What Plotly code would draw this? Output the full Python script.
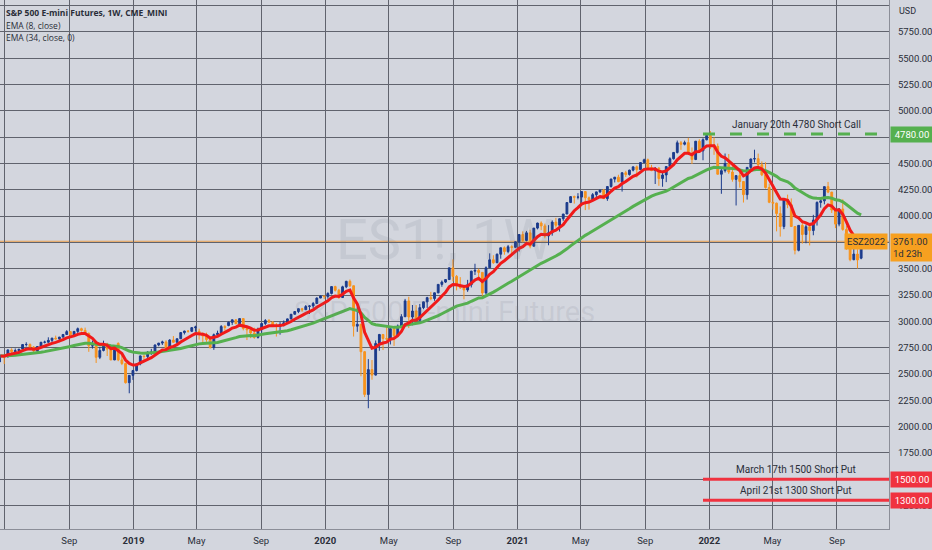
import pandas as pd
import plotly.graph_objects as go

# ---- weekly OHLC, ES1! continuous, weeks starting Monday
first_week = "2018-04-23"

opens = [
    # 2018
    2670, 2669, 2664, 2728, 2713, 2721, 2736, 2779, 2780, 2755, 2718, 2760, 2801, 2802, 2819, 2840, 2833, 2850, 2875,
    2902, 2872, 2904, 2930, 2914, 2885, 2767, 2768, 2658, 2723, 2781, 2736, 2633, 2790, 2633, 2599, 2417, 2486,
    # 2019
    2532, 2596, 2671, 2665, 2707, 2707, 2775, 2793, 2804, 2743, 2822, 2801, 2834, 2893, 2907, 2905, 2940, 2905, 2881,
    2860, 2826, 2752, 2873, 2887, 2950, 2960, 2990, 3014, 2977, 3026, 2932, 2919, 2889, 2847, 2926, 2979, 3007, 2992,
    2961, 2952, 2970, 2986, 3023, 3067, 3093, 3120, 3110, 3141, 3146, 3169, 3221, 3240,
    # 2020
    3235, 3265, 3330, 3295, 3226, 3328, 3380, 3338, 2954, 2972, 2711, 2305, 2541, 2489, 2790, 2875, 2837, 2831, 2930,
    2864, 2955, 3044, 3194, 3041, 3098, 3009, 3130, 3185, 3225, 3216, 3271, 3351, 3373, 3397, 3508, 3427, 3341, 3319,
    3298, 3348, 3477, 3484, 3465, 3270, 3509, 3585, 3557, 3638, 3699, 3663, 3709, 3703,
    # 2021
    3756, 3825, 3768, 3841, 3714, 3886, 3934, 3907, 3811, 3842, 3943, 3913, 3975, 4020, 4129, 4185, 4180, 4181, 4233,
    4174, 4156, 4204, 4230, 4247, 4166, 4281, 4352, 4370, 4327, 4412, 4395, 4437, 4468, 4442, 4509, 4535, 4459, 4433,
    4455, 4357, 4391, 4471, 4545, 4605, 4697, 4683, 4698, 4595, 4538, 4712, 4620, 4726,
    # 2022
    4766, 4677, 4663, 4398, 4432, 4500, 4419, 4349, 4385, 4329, 4204, 4463, 4543, 4546, 4488, 4392, 4272, 4132, 4123,
    4024, 3901, 4158, 4109, 3901, 3675, 3912, 3825, 3899, 3863, 3962, 4130, 4145, 4280, 4228, 4058, 3924, 4067, 3873,
    3693, 3586, 3639, 3600,
]
highs = [
    2683, 2683, 2732, 2743, 2742, 2736, 2780, 2801, 2790, 2765, 2764, 2804, 2816, 2848, 2843, 2864, 2852, 2877, 2916,
    2906, 2908, 2941, 2939, 2940, 2894, 2817, 2778, 2756, 2816, 2796, 2746, 2765, 2800, 2685, 2607, 2489, 2538,
    2598, 2675, 2674, 2716, 2738, 2780, 2794, 2816, 2820, 2830, 2860, 2837, 2895, 2911, 2917, 2944, 2958, 2930, 2894,
    2892, 2839, 2884, 2911, 2964, 2964, 2998, 3017, 3018, 3028, 3029, 2945, 2943, 2940, 2940, 2986, 3021, 3022, 3002,
    2983, 2993, 3008, 3027, 3068, 3098, 3122, 3128, 3155, 3155, 3184, 3227, 3248, 3247,
    3276, 3330, 3338, 3308, 3338, 3385, 3397, 3339, 3137, 2973, 2718, 2641, 2632, 2818, 2880, 2877, 2955, 2935, 2950,
    2970, 3068, 3213, 3233, 3155, 3154, 3165, 3186, 3233, 3280, 3272, 3352, 3388, 3400, 3509, 3588, 3440, 3420, 3320,
    3394, 3480, 3547, 3500, 3466, 3522, 3646, 3628, 3644, 3699, 3712, 3726, 3723, 3760,
    3826, 3855, 3859, 3870, 3887, 3937, 3950, 3928, 3914, 3960, 3983, 3978, 4020, 4129, 4191, 4195, 4218, 4238, 4237,
    4186, 4219, 4233, 4249, 4257, 4286, 4356, 4372, 4393, 4415, 4430, 4441, 4470, 4481, 4510, 4546, 4547, 4487, 4466,
    4466, 4429, 4475, 4559, 4608, 4718, 4714, 4717, 4744, 4652, 4713, 4731, 4740, 4790,
    4808, 4748, 4690, 4453, 4595, 4590, 4490, 4385, 4415, 4330, 4465, 4546, 4631, 4594, 4520, 4512, 4308, 4303, 4128,
    4092, 4160, 4204, 4168, 3905, 3913, 3950, 3919, 3900, 4012, 4140, 4167, 4283, 4325, 4230, 4062, 4077, 4160, 3910,
    3740, 3813, 3685, 3802,
]
lows = [
    2612, 2594, 2655, 2701, 2702, 2676, 2735, 2761, 2744, 2699, 2698, 2757, 2790, 2796, 2798, 2828, 2802, 2846, 2873,
    2864, 2866, 2887, 2903, 2874, 2710, 2741, 2604, 2641, 2714, 2670, 2631, 2631, 2621, 2584, 2408, 2316, 2443,
    2524, 2582, 2612, 2631, 2681, 2703, 2763, 2775, 2729, 2740, 2798, 2785, 2833, 2875, 2892, 2898, 2901, 2826, 2801,
    2805, 2740, 2729, 2866, 2880, 2912, 2953, 2966, 2975, 2975, 2914, 2822, 2840, 2834, 2836, 2892, 2964, 2985, 2946,
    2855, 2873, 2952, 2978, 3017, 3066, 3078, 3092, 3108, 3070, 3124, 3168, 3220, 3212,
    3214, 3255, 3283, 3214, 3223, 3315, 3326, 2855, 2900, 2478, 2280, 2174, 2445, 2485, 2720, 2727, 2817, 2780, 2766,
    2850, 2950, 3040, 2936, 2962, 2998, 3000, 3115, 3127, 3200, 3195, 3266, 3328, 3364, 3396, 3380, 3294, 3308, 3209,
    3280, 3322, 3440, 3415, 3233, 3255, 3508, 3546, 3552, 3595, 3633, 3647, 3636, 3695,
    3663, 3749, 3760, 3694, 3712, 3874, 3866, 3789, 3723, 3814, 3890, 3853, 3955, 4020, 4124, 4119, 4159, 4126, 4057,
    4062, 4152, 4168, 4220, 4165, 4145, 4271, 4320, 4322, 4233, 4372, 4385, 4425, 4367, 4439, 4508, 4457, 4427, 4305,
    4288, 4279, 4323, 4458, 4537, 4595, 4630, 4672, 4584, 4495, 4532, 4600, 4531, 4720,
    4637, 4582, 4395, 4212, 4414, 4401, 4327, 4101, 4270, 4129, 4157, 4424, 4510, 4450, 4380, 4261, 4123, 4062, 3855,
    3805, 3876, 4075, 3898, 3636, 3665, 3738, 3742, 3721, 3818, 3910, 4080, 4112, 4218, 4030, 3886, 3903, 3861, 3680,
    3571, 3580, 3502, 3590,
]
closes = [
    2670, 2663, 2728, 2713, 2721, 2735, 2779, 2780, 2755, 2718, 2760, 2801, 2802, 2819, 2840, 2833, 2850, 2875, 2902,
    2872, 2904, 2930, 2914, 2885, 2767, 2768, 2658, 2723, 2781, 2736, 2633, 2760, 2633, 2599, 2417, 2486, 2532,
    2596, 2671, 2665, 2707, 2707, 2775, 2793, 2804, 2743, 2822, 2801, 2834, 2893, 2907, 2905, 2940, 2946, 2881, 2860,
    2826, 2752, 2873, 2887, 2950, 2942, 2990, 3014, 2977, 3026, 2932, 2919, 2889, 2847, 2926, 2979, 3007, 2992, 2961,
    2952, 2970, 2986, 3023, 3067, 3093, 3120, 3110, 3141, 3146, 3169, 3221, 3240, 3235,
    3265, 3330, 3295, 3226, 3328, 3380, 3338, 2954, 2972, 2711, 2305, 2541, 2489, 2790, 2875, 2837, 2831, 2930, 2864,
    2955, 3044, 3194, 3041, 3098, 3009, 3130, 3185, 3225, 3216, 3271, 3351, 3373, 3397, 3508, 3427, 3341, 3319, 3298,
    3348, 3477, 3484, 3465, 3270, 3509, 3585, 3557, 3638, 3699, 3663, 3709, 3703, 3756,
    3825, 3768, 3841, 3714, 3886, 3934, 3907, 3811, 3842, 3943, 3913, 3975, 4020, 4129, 4185, 4180, 4181, 4233, 4174,
    4156, 4204, 4230, 4247, 4166, 4281, 4352, 4370, 4327, 4412, 4395, 4437, 4468, 4442, 4509, 4535, 4459, 4433, 4455,
    4357, 4391, 4471, 4545, 4605, 4697, 4683, 4698, 4595, 4538, 4712, 4620, 4726, 4766,
    4677, 4663, 4398, 4432, 4500, 4419, 4349, 4385, 4329, 4204, 4463, 4543, 4546, 4488, 4392, 4272, 4132, 4123, 4024,
    3901, 4158, 4109, 3901, 3675, 3912, 3825, 3899, 3863, 3962, 4130, 4145, 4280, 4228, 4058, 3924, 4067, 3873, 3693,
    3586, 3639, 3583, 3761,
]

# ---- option strikes drawn on the chart
strike_levels = [4780, 1500, 1300]
strike_labels = ["January 20th 4780 Short Call", "March 17th 1500 Short Put", "April 21st 1300 Short Put"]
strike_start = "2021-12-20"

last_price = 3761
contract = "ESZ2022"
bar_countdown = "1d 23h"

tick_dates = ["2018-05-01", "2018-09-01", "2019-01-01", "2019-05-01", "2019-09-01", "2020-01-01", "2020-05-01",
              "2020-09-01", "2021-01-01", "2021-05-01", "2021-09-01", "2022-01-01", "2022-05-01", "2022-09-01"]
tick_labels = ["May", "Sep", "<b>2019</b>", "May", "Sep", "<b>2020</b>", "May", "Sep", "<b>2021</b>",
               "May", "Sep", "<b>2022</b>", "May", "Sep"]
price_ticks = [1250, 1500, 1750, 2000, 2250, 2500, 2750, 3000, 3250, 3500, 3750, 4000, 4250, 4500,
               4750, 5000, 5250, 5500, 5750, 6000]
hidden_ticks = [1500, 3750, 4750, 6000]   # covered by the price badges / USD caption
price_labels = ["" if p in hidden_ticks else f"{p:.2f}" for p in price_ticks]

x_range = ["2018-04-22", "2022-12-09"]
y_range = [1026, 6054]

# ---------------------------------------------------------------
dates = pd.date_range(first_week, periods=len(closes), freq="W-MON")
ema8 = pd.Series(closes).ewm(span=8, adjust=False).mean()
ema34 = pd.Series(closes).ewm(span=34, adjust=False).mean()

BG = "#d3d6de"
GRID = "#60636d"
AXIS = "#8b8e98"
UP = "#1b3b8c"
DOWN = "#f7931e"
GREEN = "#55b04f"
RED = "#f0323f"
ORANGE = "#f7a020"
TXT = "#2a2e39"
strike_colors = [GREEN, RED, RED]

fig = go.Figure()
fig.add_trace(go.Candlestick(
    x=dates, open=opens, high=highs, low=lows, close=closes,
    increasing=dict(line=dict(color=UP, width=1), fillcolor=UP),
    decreasing=dict(line=dict(color=DOWN, width=1), fillcolor=DOWN),
    whiskerwidth=0, showlegend=False, hoverinfo="skip",
))
fig.add_trace(go.Scatter(x=dates, y=ema34, mode="lines", line=dict(color=GREEN, width=3),
                         showlegend=False, hoverinfo="skip"))
fig.add_trace(go.Scatter(x=dates, y=ema8, mode="lines", line=dict(color="#f01a1a", width=3),
                         showlegend=False, hoverinfo="skip"))

annotations = []
for lvl, lab, col in zip(strike_levels, strike_labels, strike_colors):
    dash = "12px,15px" if col == GREEN else "solid"
    fig.add_trace(go.Scatter(x=[strike_start, x_range[1]], y=[lvl, lvl], mode="lines",
                             line=dict(color=col, width=3, dash=dash), showlegend=False, hoverinfo="skip"))
    mid = pd.Timestamp(strike_start) + (pd.Timestamp(x_range[1]) - pd.Timestamp(strike_start)) / 2
    annotations.append(dict(x=mid, y=lvl, xref="x", yref="y", text=lab, showarrow=False, yshift=10,
                            font=dict(family="Roboto", size=10, color=TXT)))
    annotations.append(dict(x=1, y=lvl, xref="paper", yref="y", text=f"{lvl:.2f}", showarrow=False,
                            xanchor="left", xshift=1, bgcolor=col, borderpad=2, width=38,
                            font=dict(family="Roboto", size=9.5, color="white")))

# last price
annotations.append(dict(x=1, y=last_price, xref="paper", yref="y", text=contract, showarrow=False,
                        xanchor="right", xshift=-1, bgcolor=ORANGE, borderpad=2,
                        font=dict(family="Roboto", size=9.5, color=TXT)))
annotations.append(dict(x=1, y=last_price, xref="paper", yref="y", text=f"{last_price:.2f}<br>{bar_countdown}",
                        showarrow=False, xanchor="left", xshift=1, yanchor="top", yshift=8, align="left",
                        bgcolor=ORANGE, borderpad=2, width=38,
                        font=dict(family="Roboto", size=9.5, color=TXT)))

# watermark
annotations.append(dict(x=0.5, y=0.546, xref="paper", yref="paper", text="ES1!, 1W", showarrow=False,
                        font=dict(family="Roboto", size=56, color="rgba(110,115,130,0.13)")))
annotations.append(dict(x=0.5, y=0.41, xref="paper", yref="paper", text="S&P 500 E-mini Futures", showarrow=False,
                        font=dict(family="Roboto", size=29, color="rgba(110,115,130,0.13)")))

# header text
for i, (txt, bold) in enumerate([("S&P 500 E-mini Futures, 1W, CME_MINI", True),
                                 ("EMA (8, close)", False), ("EMA (34, close, 0)", False)]):
    annotations.append(dict(x=0, y=1, xref="paper", yref="paper", xanchor="left", yanchor="top",
                            xshift=4, yshift=-5 - 12.5 * i, showarrow=False,
                            text=f"<b>{txt}</b>" if bold else txt,
                            font=dict(family="Open Sans", size=8.5, color=TXT)))
annotations.append(dict(x=1, y=1, xref="paper", yref="paper", xanchor="left", yanchor="top", xshift=8, yshift=-4,
                        text="USD", showarrow=False, font=dict(family="Roboto", size=9, color=TXT)))

fig.update_layout(
    width=932, height=550,
    margin=dict(l=0, r=43, t=0, b=21),
    paper_bgcolor=BG, plot_bgcolor=BG,
    showlegend=False,
    annotations=annotations,
    shapes=[dict(type="line", xref="paper", yref="y", x0=0, x1=1, y0=last_price, y1=last_price,
                 line=dict(color="rgba(240,150,50,0.85)", width=1), layer="below")],
    xaxis=dict(
        type="date", range=x_range, tickvals=tick_dates, ticktext=tick_labels,
        showgrid=True, gridcolor=GRID, gridwidth=1, zeroline=False,
        showline=True, linecolor=AXIS, ticks="", rangeslider=dict(visible=False),
        ticklabelstandoff=3,
        tickfont=dict(family="Roboto", size=9.5, color=TXT),
    ),
    yaxis=dict(
        side="right", range=y_range, tickvals=price_ticks, ticktext=price_labels,
        showgrid=True, gridcolor=GRID, gridwidth=1, zeroline=False,
        showline=True, linecolor=AXIS, ticks="outside", ticklen=6, tickcolor="rgba(0,0,0,0)",
        tickfont=dict(family="Roboto", size=9.5, color=TXT), automargin=False,
    ),
)

# page body has a default margin; drop it so the figure sits at the window corner
fig.write_html("out.html", config={"displayModeBar": False},
               post_script="document.body.style.margin='0';")
